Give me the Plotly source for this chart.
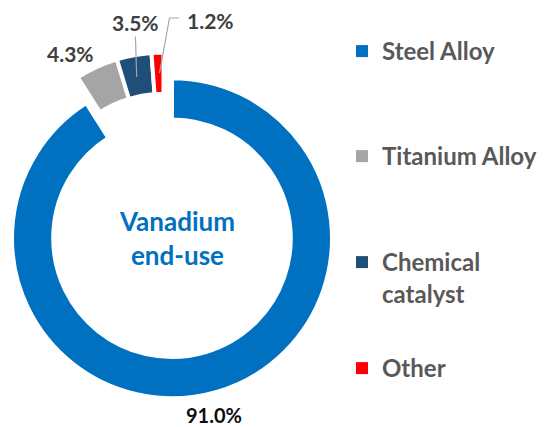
import plotly.graph_objects as go

# ---- data ----
categories = ["Steel Alloy", "Titanium Alloy", "Chemical catalyst", "Other"]
shares = [91.0, 4.3, 3.5, 1.2]
colors = ["#0070C0", "#A5A5A5", "#1F4E79", "#FF0000"]
legend_text = ["Steel Alloy", "Titanium Alloy", "Chemical<br>catalyst", "Other"]
center_title = "Vanadium<br>end-use"

W, H = 549, 427


def fx(p):
    return p / W


def fy(p):
    return 1 - p / H


TRANSPARENT = "rgba(0,0,0,0)"
FONT = "Lato"
hole = 0.7425

fig = go.Figure()

# Trace A: the (exploded) steel slice, centred at its own position
fig.add_trace(go.Pie(
    labels=categories, values=shares, sort=False, direction="clockwise", rotation=0,
    hole=hole,
    marker=dict(colors=[colors[0]] + [TRANSPARENT] * 3,
                line=dict(color="white", width=[4, 0, 0, 0])),
    textinfo="none", hoverinfo="label+percent", showlegend=False,
    domain=dict(x=[fx(12), fx(332)], y=[fy(398.25), fy(78.25)]),
))

# Trace B: the three small slices around the un-exploded centre
fig.add_trace(go.Pie(
    labels=categories, values=shares, sort=False, direction="clockwise", rotation=0,
    hole=hole,
    marker=dict(colors=[TRANSPARENT] + colors[1:],
                line=dict(color="white", width=[0, 4, 4, 4])),
    textinfo="none", hoverinfo="label+percent", showlegend=False,
    domain=dict(x=[fx(3.5), fx(323.5)], y=[fy(372.5), fy(52.5)]),
))

# Legend entries (one legend per category, tiny pies hidden under the legend boxes)
legend_y = [52, 157, 263, 369]
legend_ids = ["legend", "legend2", "legend3", "legend4"]
for cat, txt, col, ly, lid in zip(categories, legend_text, colors, legend_y, legend_ids):
    fig.add_trace(go.Pie(
        labels=[txt], values=[1], sort=False, hole=0,
        marker=dict(colors=[col], line=dict(width=0)),
        textinfo="none", hoverinfo="skip", showlegend=True, legend=lid,
        domain=dict(x=[fx(420), fx(420.4)], y=[fy(ly + 0.4), fy(ly)]),
    ))

legend_style = dict(
    xanchor="left", yanchor="top", valign="top",
    font=dict(family=FONT, size=24, color="#595959", weight="bold"),
    bgcolor="white", borderwidth=0, itemclick=False, itemdoubleclick=False,
)
layout_legends = {}
for lid, ly in zip(legend_ids, legend_y):
    layout_legends[lid] = dict(legend_style, x=fx(342), y=fy(ly - 23))

# Percentage labels
pct = [f"{v:.1f}%" for v in shares]
lab_font = dict(family=FONT, size=21, color="#404040", weight="bold")
annotations = [
    dict(text=pct[0], x=fx(213.5), y=fy(415), xref="paper", yref="paper",
         showarrow=False, xanchor="center", yanchor="middle",
         font=dict(lab_font, size=20, color="#0D0D0D")),
    dict(text=pct[1], x=fx(70.7), y=fy(53.5), xref="paper", yref="paper",
         showarrow=False, xanchor="center", yanchor="middle", font=lab_font),
    dict(text=pct[2], x=fx(136.7), y=fy(77), xref="paper", yref="paper",
         showarrow=True, arrowhead=0, arrowwidth=1.2, arrowcolor="#A6A6A6",
         ax=135 - 136.7, ay=22.5 - 77, standoff=0, font=lab_font),
    dict(text=pct[3], x=fx(210), y=fy(20.5), xref="paper", yref="paper",
         showarrow=False, xanchor="center", yanchor="middle", font=lab_font),
    dict(text=center_title, x=fx(176.7), y=fy(238), xref="paper", yref="paper",
         showarrow=False, xanchor="center", yanchor="middle",
         font=dict(family=FONT, size=26, color="#0070C0", weight="bold")),
]

shapes = [
    dict(type="path", xref="paper", yref="paper",
         path=f"M{fx(179)},{fy(18)} L{fx(169.5)},{fy(18)} L{fx(159.5)},{fy(73)}",
         line=dict(color="#A6A6A6", width=1.2)),
]

fig.update_layout(
    width=W, height=H, margin=dict(l=0, r=0, t=0, b=0),
    paper_bgcolor="white", plot_bgcolor="white",
    annotations=annotations, shapes=shapes,
    **layout_legends,
)

fig.write_html("out.html", config={"displayModeBar": False},
               post_script="document.body.style.margin='0px';")
